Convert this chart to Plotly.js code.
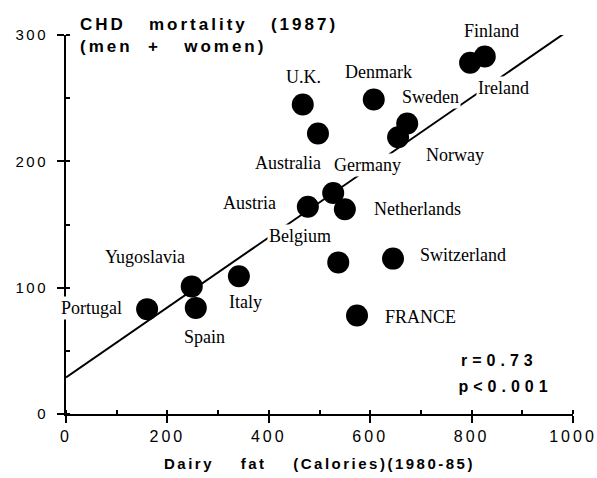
<!DOCTYPE html>
<html>
<head>
<meta charset="utf-8">
<script src="https://cdn.plot.ly/plotly-3.0.1.min.js"></script>
<style>
  html, body { margin: 0; padding: 0; background: #fff; }
  #chart { width: 597px; height: 478px; }
  .gtitle { letter-spacing: 3px; }
  .xtitle { letter-spacing: 2.5px; }
  .xtick text { letter-spacing: 3px; }
  .ytick text { letter-spacing: 2.5px; }
  g.annotation[data-index="0"] text, g.annotation[data-index="1"] text { letter-spacing: 5px; }
</style>
</head>
<body>
<div id="chart"></div>
<script>
// ---- data ----
const countries = ["Finland", "Ireland", "U.K.", "Denmark", "Sweden", "Norway", "Australia", "Germany",
                   "Austria", "Netherlands", "Belgium", "Switzerland", "FRANCE", "Italy", "Yugoslavia", "Spain", "Portugal"];
const dairyFat = [826, 797, 467, 607, 673, 655, 497, 527, 477, 550, 537, 645, 574, 341, 248, 256, 160];
const chdMortality = [283, 278, 245, 249, 230, 219, 222, 175, 164, 162, 120, 123, 78, 109, 101, 84, 83];
const fitIntercept = 29;
const fitSlope = 0.277;
const fitXRange = [0, 985];
const xTickVals = [0, 200, 400, 600, 800, 1000];
const yTickVals = [0, 100, 200, 300];
const statText = ["r=0.73", "p<0.001"];

// ---- label placement (pixels relative to each point) ----
const labelShift = {
  "Finland": [7, 25], "Ireland": [33, -25], "U.K.": [1, 27], "Denmark": [5, 27], "Sweden": [23, 26],
  "Norway": [57, -18], "Australia": [-30, -29], "Germany": [34, 28], "Austria": [-58, 4],
  "Netherlands": [73, 0], "Belgium": [-38, 26], "Switzerland": [70, 4], "FRANCE": [63, -2],
  "Italy": [7, -26], "Yugoslavia": [-47, 29], "Spain": [9, -29], "Portugal": [-56, 1]
};

const fitY = fitXRange.map(x => fitIntercept + fitSlope * x);

const traces = [
  { x: fitXRange, y: fitY, mode: "lines", type: "scatter",
    line: { color: "#000", width: 2 }, hoverinfo: "skip", showlegend: false },
  { x: dairyFat, y: chdMortality, text: countries, mode: "markers", type: "scatter",
    marker: { color: "#000", size: 22 }, showlegend: false }
];

const serif = "Liberation Serif, Times New Roman, serif";
const sans = "Liberation Sans, Arial, sans-serif";

const annotations = [
  { xref: "paper", yref: "paper", x: (474 - 66) / 507, y: (414 - 360) / 379, xanchor: "left", yanchor: "middle",
    text: statText[0], showarrow: false, font: { family: sans, size: 16, color: "#000", weight: "bold" } },
  { xref: "paper", yref: "paper", x: (474 - 66) / 507, y: (414 - 386) / 379, xanchor: "left", yanchor: "middle",
    text: statText[1], showarrow: false, font: { family: sans, size: 16, color: "#000", weight: "bold" } }
];
countries.forEach((c, i) => {
  annotations.push({
    x: dairyFat[i], y: chdMortality[i], xref: "x", yref: "y",
    text: c, showarrow: false, xanchor: "center", yanchor: "middle",
    xshift: labelShift[c][0], yshift: labelShift[c][1],
    bgcolor: "#fff", borderpad: 1,
    font: { family: serif, size: 18, color: "#000" }
  });
});

const layout = {
  width: 597, height: 478,
  margin: { l: 66, r: 24, t: 35, b: 64, pad: 0 },
  paper_bgcolor: "#fff", plot_bgcolor: "#fff",
  showlegend: false,
  title: {
    text: "CHD\u00A0\u00A0\u00A0mortality\u00A0\u00A0\u00A0(1987)<br>(men\u00A0\u00A0+\u00A0\u00A0\u00A0women)",
    xref: "paper", x: (80 - 66) / 507, xanchor: "left",
    yref: "container", y: 1 - 30 / 478, yanchor: "top",
    font: { family: sans, size: 17, color: "#000", weight: "bold", lineposition: "none" }
  },
  xaxis: {
    range: [0, 1000], showgrid: false, zeroline: false,
    showline: true, linecolor: "#000", linewidth: 2,
    ticks: "outside", ticklen: 7, tickwidth: 2, tickcolor: "#000",
    tickmode: "array", tickvals: xTickVals,
    tickfont: { family: sans, size: 16, color: "#000" },
    minor: { dtick: 100, tick0: 0, ticks: "inside", ticklen: 4, tickwidth: 2, tickcolor: "#000", showgrid: false },
    title: { text: "Dairy\u00A0\u00A0\u00A0\u00A0fat\u00A0\u00A0\u00A0\u00A0(Calories)(1980-85)",
             font: { family: sans, size: 15, color: "#000", weight: "bold" }, standoff: 14 },
    fixedrange: true
  },
  yaxis: {
    range: [0, 300], showgrid: false, zeroline: false,
    showline: true, linecolor: "#000", linewidth: 2,
    ticks: "outside", ticklen: 7, tickwidth: 2, tickcolor: "#000",
    tickmode: "array", tickvals: yTickVals,
    tickfont: { family: sans, size: 15, color: "#000" },
    ticklabelstandoff: 6,
    minor: { dtick: 50, tick0: 0, ticks: "inside", ticklen: 4, tickwidth: 2, tickcolor: "#000", showgrid: false },
    fixedrange: true
  },
  annotations: annotations
};

Plotly.newPlot("chart", traces, layout, { staticPlot: true, displayModeBar: false });
</script>
</body>
</html>
